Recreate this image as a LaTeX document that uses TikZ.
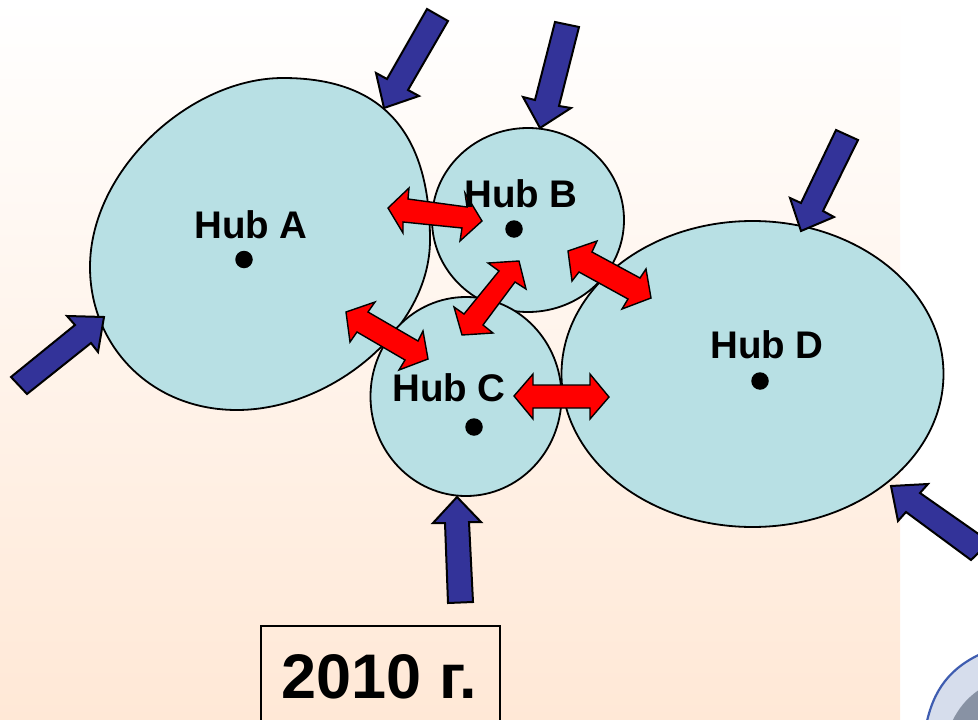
\documentclass[tikz,border=0pt]{standalone}
\usepackage{fontspec}
\setmainfont{Liberation Sans}
\usetikzlibrary{shapes.geometric}
\definecolor{hubfill}{RGB}{184,224,228}
\definecolor{inflow}{RGB}{51,51,153}
\definecolor{bgtop}{RGB}{255,255,255}
\definecolor{bgbot}{RGB}{255,232,214}
\definecolor{logoblue}{RGB}{62,92,176}
\definecolor{logolight}{RGB}{214,221,236}
\definecolor{logogray}{RGB}{136,146,164}
\tikzset{
  hub/.style={ellipse,draw=black,line width=1.8pt,fill=hubfill,inner sep=0pt},
  hubshape/.style={draw=black,line width=1.8pt,fill=hubfill},
  inarrow/.style={draw=black,line width=2pt,fill=inflow,line join=miter},
  linkarrow/.style={draw=black,line width=1.4pt,fill=red,line join=miter},
  hubdot/.style={circle,fill=black,inner sep=0pt,minimum size=17.5pt},
  hublabel/.style={anchor=base,inner sep=0pt,font=\fontsize{38.5}{40}\selectfont\bfseries},
  yearbox/.style={draw=black,line width=1.4pt},
  yearlabel/.style={anchor=base,inner sep=0pt,font=\fontsize{63}{65}\selectfont\bfseries}
}
\begin{document}
\begin{tikzpicture}[x=1pt,y=-1pt]
\useasboundingbox (0,0) rectangle (978,720);
\clip (0,0) rectangle (978,720);
\fill[white] (0,0) rectangle (978,720);
\shade[top color=bgtop,bottom color=bgbot] (0,0) rectangle (900,720);
% logo fragment
\fill[logolight] (926,726) .. controls (933,690) and (950,667) .. (985,652) -- (985,726) -- cycle;
\draw[logoblue,line width=2.2pt] (926,726) .. controls (933,690) and (950,667) .. (985,652);
\fill[logogray] (950,726) .. controls (958,708) and (968,696) .. (985,686) -- (985,726) -- cycle;
% hubs
\draw[hubshape] (283,78) .. controls (385,78) and (430,135) .. (430,240)
  .. controls (430,330) and (330,410) .. (237,410)
  .. controls (150,410) and (90,345) .. (90,267)
  .. controls (90,170) and (190,78) .. (283,78) -- cycle;
\node[hub,minimum width=192pt,minimum height=184pt] (hubB) at (528,220) {};
\node[hub,minimum width=191pt,minimum height=199pt] (hubC) at (466,396.5) {};
\node[hub,minimum width=382pt,minimum height=306pt] (hubD) at (752.5,374) {};
% inflow arrows
\draw[inarrow] (427,9) -- (448,21) -- (408,90) -- (419,96) -- (384,108) -- (376,73) -- (387,79) -- cycle;
\draw[inarrow] (555,22) -- (579,27) -- (559,106) -- (571,108) -- (540,128) -- (523,97) -- (535,100) -- cycle;
\draw[inarrow] (836,130) -- (858,140) -- (823,211) -- (834,217) -- (801,231) -- (790,198) -- (801,203) -- cycle;
\draw[inarrow] (11,377) -- (27,394) -- (91,343) -- (98,352) -- (104,317) -- (67,316) -- (75,325) -- cycle;
\draw[inarrow] (448,603) -- (473,602) -- (469,522) -- (481,522) -- (457,497) -- (433,523) -- (445,523) -- cycle;
\draw[inarrow] (891,486) -- (928,484) -- (920,493) -- (990,542) -- (971,560) -- (906,512) -- (898,521) -- cycle;
% link arrows
\draw[linkarrow] (388,208) -- (409,188) -- (408,199) -- (467,207) -- (465,193) -- (482,221) -- (460,241) -- (462,228) -- (403,222) -- (403,233) -- cycle;
\draw[linkarrow] (519,261) -- (526,289) -- (515,282) -- (483,325) -- (493,333) -- (462,335) -- (454,307) -- (464,314) -- (499,271) -- (488,263) -- cycle;
\draw[linkarrow] (568,251) -- (597,241) -- (592,252) -- (640,278) -- (646,269) -- (651,298) -- (622,309) -- (628,299) -- (579,272) -- (572,281) -- cycle;
\draw[linkarrow] (346,312) -- (375,302) -- (368,312) -- (418,341) -- (423,331) -- (428,359) -- (399,370) -- (405,360) -- (357,332) -- (350,342) -- cycle;
\draw[linkarrow] (514,396) -- (533,374) -- (533,385) -- (590,385) -- (590,374) -- (609,397) -- (590,419) -- (590,408) -- (533,408) -- (533,419) -- cycle;
% dots and labels
\node[hubdot] (dotA) at (244,259.5) {};
\node[hubdot] (dotB) at (514,229) {};
\node[hubdot] (dotC) at (474,427) {};
\node[hubdot] (dotD) at (760,381) {};
\node[hublabel] (labA) at (251,238) {Hub A};
\node[hublabel] (labB) at (521,207) {Hub B};
\node[hublabel] (labC) at (449,401) {Hub C};
\node[hublabel] (labD) at (767,358) {Hub D};
% year
\node[yearbox,minimum width=239pt,minimum height=110pt,inner sep=0pt] (year) at (380.5,681) {};
\node[yearlabel] (yearText) at (379,698) {2010 г.};
\end{tikzpicture}
\end{document}
